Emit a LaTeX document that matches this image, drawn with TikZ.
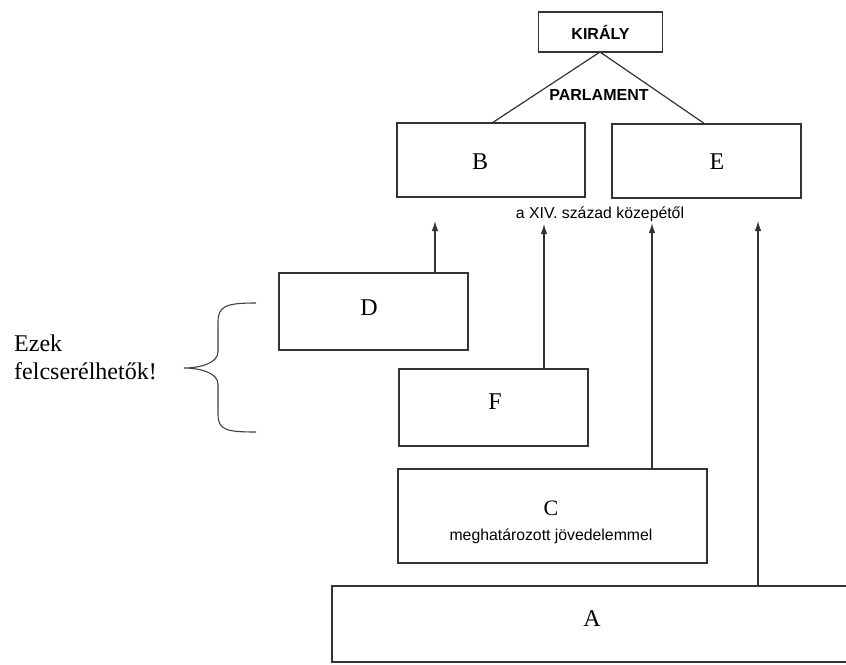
\documentclass[tikz,border=0pt]{standalone}
\usepackage{fontspec}
\setmainfont{Liberation Serif}
\setsansfont{Liberation Sans}
\usetikzlibrary{arrows.meta}
\begin{document}
\begin{tikzpicture}[x=1pt,y=-1pt,
  ink/.style={draw=black!80, line width=1.5pt},
  box/.style={ink, rectangle, inner sep=0pt},
  letter/.style={font=\fontsize{24}{28}\selectfont, inner sep=0pt},
  sanslbl/.style={font=\sffamily\fontsize{15.8}{18}\selectfont, inner sep=0pt},
  arr/.style={draw=black!80, line width=1.2pt, -{Latex[length=10pt,width=6.5pt]}}
]
\useasboundingbox (0,0) rectangle (846,664);
% boxes
\node[box, minimum width=124pt, minimum height=40pt, font=\sffamily\bfseries\fontsize{16}{19}\selectfont] (kir) at (600.5,32) {KIRÁLY};
\node[box, minimum width=188pt, minimum height=74pt] (B) at (491,160) {};
\node[box, minimum width=189pt, minimum height=74pt] (E) at (706.5,161) {};
\node[box, minimum width=189pt, minimum height=77pt] (D) at (373.5,311.5) {};
\node[box, minimum width=189pt, minimum height=77pt] (F) at (493.5,407.5) {};
\node[box, minimum width=309pt, minimum height=94pt] (C) at (552.5,516) {};
\node[box, minimum width=530pt, minimum height=76pt] (A) at (597,624) {};
% labels
\node[letter] (lB) at (480,162) {B};
\node[letter] (lE) at (717,162) {E};
\node[letter] (lD) at (369,308) {D};
\node[letter] (lF) at (495,402) {F};
\node[letter, font=\fontsize{22}{26}\selectfont] (lC) at (551,508) {C};
\node[sanslbl] (lC2) at (551,536) {meghatározott jövedelemmel};
\node[letter] (lA) at (592,619) {A};
% parliament triangle
\coordinate (apex) at (600,52);
\coordinate (lfoot) at (492,123);
\coordinate (rfoot) at (705,124);
\draw[ink, line width=1.2pt] (lfoot) -- (apex) -- (rfoot);
\node[font=\sffamily\bfseries\fontsize{16}{19}\selectfont, inner sep=0pt] (parl) at (599,95) {PARLAMENT};
\node[sanslbl] (xiv) at (600,214) {a XIV. század közepétől};
% arrows
\coordinate (t1) at (435,221);
\coordinate (t2) at (544,224);
\coordinate (t3) at (652,223);
\coordinate (t4) at (758,221);
\draw[arr] (t1 |- D.north) -- (t1);
\draw[arr] (t2 |- F.north) -- (t2);
\draw[arr] (t3 |- C.north) -- (t3);
\draw[arr] (t4 |- A.north) -- (t4);
% brace
\coordinate (btop) at (256,303);
\coordinate (btip) at (184,368);
\coordinate (bbot) at (256,432);
\draw[draw=black!75, line width=1.1pt]
  (btop) .. controls (226,303) and (218,306) .. (218,322)
  -- (218,352) .. controls (218,363) and (200,368) .. (btip)
  .. controls (200,368) and (218,373) .. (218,384)
  -- (218,414) .. controls (218,430) and (226,432) .. (bbot);
\node[anchor=base west, inner sep=0pt, font=\fontsize{24}{28}\selectfont] (ezek) at (14,351) {Ezek};
\node[anchor=base west, inner sep=0pt, font=\fontsize{24}{28}\selectfont] (felcs) at (14,379) {felcserélhetők!};
\end{tikzpicture}
\end{document}
